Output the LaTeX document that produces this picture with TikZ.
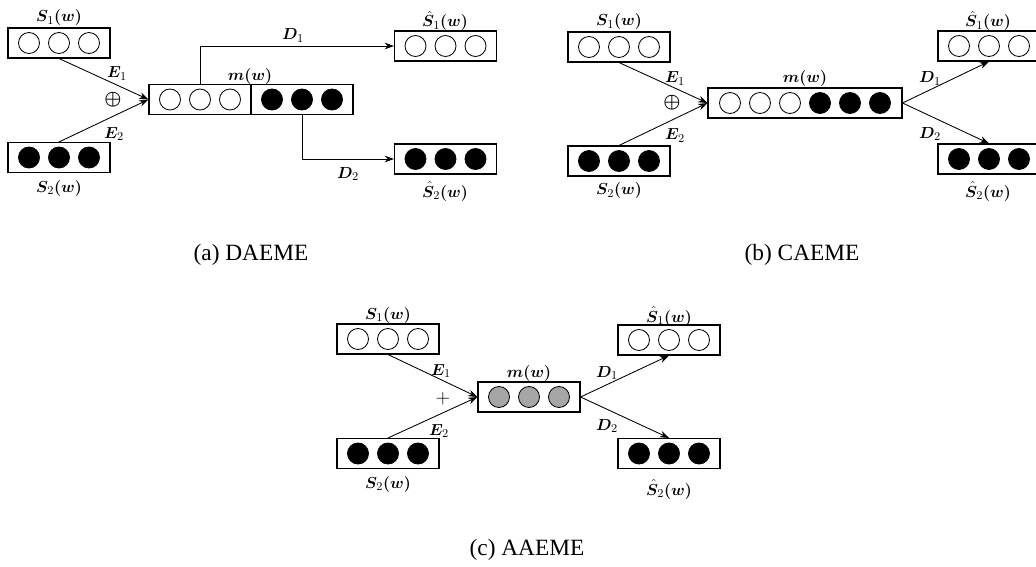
\documentclass[tikz,border=0pt]{standalone}
\usepackage{amsmath,bm}
\usepackage{fontspec}
\newfontfamily\capfont{Liberation Serif}
\usetikzlibrary{arrows.meta,calc}
\begin{document}
\begin{tikzpicture}[x=0.75pt,y=-0.75pt,
 vbox/.style={draw,rectangle,line width=0.8pt,minimum width=76.5pt,minimum height=22.5pt,inner sep=0pt},
 cw/.style={draw,circle,line width=0.65pt,minimum size=15.75pt,inner sep=0pt,fill=white},
 cb/.style={cw,fill=black},
 cg/.style={cw,fill=gray!70},
 lab/.style={anchor=base,inner sep=0pt,font=\fontsize{13}{15}\selectfont},
 op/.style={inner sep=0pt,font=\fontsize{15}{17}\selectfont},
 arr/.style={-{Stealth[length=7pt,width=5pt]},line width=0.65pt},
 captext/.style={inner sep=0pt,font=\capfont\fontsize{17.5}{19}\selectfont}
]
\useasboundingbox (0,0) rectangle (1036,567);
\clip (0,0) rectangle (1036,567);

% ---------------- (a) DAEME ----------------
\node[vbox] (as1) at (59,43) {};
\node[vbox] (as2) at (59,157.5) {};
\node[vbox,minimum width=153pt] (am) at (251,99.5) {};
\node[vbox] (ah1) at (445.5,46) {};
\node[vbox] (ah2) at (445.5,159) {};
\draw[line width=0.8pt] (am.north) -- (am.south);
\foreach \k/\d in {1/-1,2/0,3/1}{
  \node[cw] (as1c\k) at ($(as1.center)+(\d*30,0)$) {};
  \node[cb] (as2c\k) at ($(as2.center)+(\d*30,0)$) {};
  \node[cw] (ah1c\k) at ($(ah1.center)+(\d*30,0)$) {};
  \node[cb] (ah2c\k) at ($(ah2.center)+(\d*30,0)$) {};
}
\foreach \k/\d in {1/-81,2/-51,3/-21}{\node[cw] (amc\k) at ($(am.center)+(\d,0)$) {};}
\foreach \k/\d in {4/21,5/51,6/81}{\node[cb] (amc\k) at ($(am.center)+(\d,0)$) {};}
\draw[arr] (as1.south) -- (am.west);
\draw[arr] (as2.north) -- (am.west);
\draw[arr] (amc2 |- am.north) |- (ah1.west);
\draw[arr] (amc5 |- am.south) |- (ah2.west);
\node[lab] (aLs1) at (59,22) {$\bm{S}_{1}\bm{(w)}$};
\node[lab] (aLs2) at (59,192) {$\bm{S}_{2}\bm{(w)}$};
\node[lab] (aLh1) at (445,27) {$\hat{\bm{S}}_{1}\bm{(w)}$};
\node[lab] (aLh2) at (445,197) {$\hat{\bm{S}}_{2}\bm{(w)}$};
\node[lab] (aLm) at (250,81) {$\bm{m(w)}$};
\node[lab] (aLe1) at (117,78) {$\bm{E}_{1}$};
\node[lab] (aLe2) at (114,138) {$\bm{E}_{2}$};
\node[lab] (aLd1) at (293,40) {$\bm{D}_{1}$};
\node[lab] (aLd2) at (348,178) {$\bm{D}_{2}$};
\node[op] (aop) at (113,100) {$\bm{\oplus}$};
\node[captext] (acap) at (251,255) {(a) DAEME};

% ---------------- (b) CAEME ----------------
\node[vbox] (bs1) at (619,47) {};
\node[vbox] (bs2) at (619,161) {};
\node[vbox,minimum width=145.5pt] (bm) at (805,103) {};
\node[vbox] (bh1) at (989,46) {};
\node[vbox] (bh2) at (989,159) {};
\foreach \k/\d in {1/-1,2/0,3/1}{
  \node[cw] (bs1c\k) at ($(bs1.center)+(\d*30,0)$) {};
  \node[cb] (bs2c\k) at ($(bs2.center)+(\d*30,0)$) {};
  \node[cw] (bh1c\k) at ($(bh1.center)+(\d*30,0)$) {};
  \node[cb] (bh2c\k) at ($(bh2.center)+(\d*30,0)$) {};
}
\foreach \k/\d in {1/-75,2/-45,3/-15}{\node[cw] (bmc\k) at ($(bm.center)+(\d,0)$) {};}
\foreach \k/\d in {4/15,5/45,6/75}{\node[cb] (bmc\k) at ($(bm.center)+(\d,0)$) {};}
\draw[arr] (bs1.south) -- (bm.west);
\draw[arr] (bs2.north) -- (bm.west);
\draw[arr] (bm.east) -- (bh1.south);
\draw[arr] (bm.east) -- (bh2.north);
\node[lab] (bLs1) at (619,26) {$\bm{S}_{1}\bm{(w)}$};
\node[lab] (bLs2) at (619,195) {$\bm{S}_{2}\bm{(w)}$};
\node[lab] (bLh1) at (988,27) {$\hat{\bm{S}}_{1}\bm{(w)}$};
\node[lab] (bLh2) at (988,197) {$\hat{\bm{S}}_{2}\bm{(w)}$};
\node[lab] (bLm) at (805,83) {$\bm{m(w)}$};
\node[lab] (bLe1) at (675,83) {$\bm{E}_{1}$};
\node[lab] (bLe2) at (675,140) {$\bm{E}_{2}$};
\node[lab] (bLd1) at (930,83) {$\bm{D}_{1}$};
\node[lab] (bLd2) at (930,138) {$\bm{D}_{2}$};
\node[op] (bop) at (672,103) {$\bm{\oplus}$};
\node[captext] (bcap) at (802,255) {(b) CAEME};

% ---------------- (c) AAEME ----------------
\node[vbox] (cs1) at (388,339) {};
\node[vbox] (cs2) at (388,453.5) {};
\node[vbox] (cm) at (529,397) {};
\node[vbox] (ch1) at (669,340) {};
\node[vbox] (ch2) at (669,453.5) {};
\foreach \k/\d in {1/-1,2/0,3/1}{
  \node[cw] (cs1c\k) at ($(cs1.center)+(\d*30,0)$) {};
  \node[cb] (cs2c\k) at ($(cs2.center)+(\d*30,0)$) {};
  \node[cg] (cmc\k) at ($(cm.center)+(\d*30,0)$) {};
  \node[cw] (ch1c\k) at ($(ch1.center)+(\d*30,0)$) {};
  \node[cb] (ch2c\k) at ($(ch2.center)+(\d*30,0)$) {};
}
\draw[arr] (cs1.south) -- (cm.west);
\draw[arr] (cs2.north) -- (cm.west);
\draw[arr] (cm.east) -- (ch1.south);
\draw[arr] (cm.east) -- (ch2.north);
\node[lab] (cLs1) at (388,319) {$\bm{S}_{1}\bm{(w)}$};
\node[lab] (cLs2) at (388,488) {$\bm{S}_{2}\bm{(w)}$};
\node[lab] (cLh1) at (669,322) {$\hat{\bm{S}}_{1}\bm{(w)}$};
\node[lab] (cLh2) at (669,495) {$\hat{\bm{S}}_{2}\bm{(w)}$};
\node[lab] (cLm) at (529,377) {$\bm{m(w)}$};
\node[lab] (cLe1) at (441,375) {$\bm{E}_{1}$};
\node[lab] (cLe2) at (439,435) {$\bm{E}_{2}$};
\node[lab] (cLd1) at (607,377) {$\bm{D}_{1}$};
\node[lab] (cLd2) at (607,430) {$\bm{D}_{2}$};
\node[op] (cop) at (443,399) {$+$};
\node[captext] (ccap) at (527,550) {(c) AAEME};
\end{tikzpicture}
\end{document}
